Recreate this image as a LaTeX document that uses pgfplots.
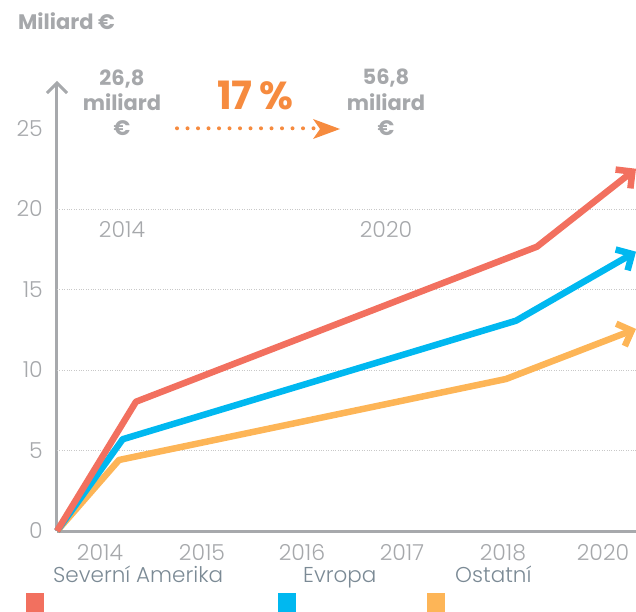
\documentclass[border=0pt]{standalone}
\usepackage{pgfplots}
\pgfplotsset{compat=1.18}
\usepackage{fontspec}
\setmainfont{Poppins}
\newfontfamily\lightfont{Poppins Light}
\usetikzlibrary{arrows.meta}
\definecolor{cred}{HTML}{F2705F}
\definecolor{cblue}{HTML}{00B8F0}
\definecolor{cyel}{HTML}{FDB557}
\definecolor{corange}{HTML}{F68B3F}
\definecolor{txtgray}{HTML}{A6A8AB}
\definecolor{axgray}{HTML}{A7A9AC}
\definecolor{leggray}{HTML}{7B8A95}
\definecolor{gridgray}{HTML}{C8C8C8}
\begin{document}
\begin{tikzpicture}
\path[use as bounding box] (-57pt,-80pt) rectangle (579pt,531pt);
\begin{axis}[
  at={(0pt,0pt)}, anchor=south west,
  scale only axis, width=579pt, height=450pt,
  xmin=57, xmax=636, ymin=0, ymax=27.95,
  clip=false,
  axis x line=bottom, axis y line=left,
  x axis line style={-, line width=3pt, color=axgray},
  y axis line style={-{Straight Barb[length=10pt,width=20pt]}, line width=3pt, color=axgray},
  xtick={100,202,302,402,503,603},
  xticklabels={2014,2015,2016,2017,2018,2020},
  ytick={0,5,...,25},
  major tick length=0pt,
  tick style={draw=none},
  /pgf/number format/assume math mode=true,
  yticklabel style={font=\lightfont\fontsize{22}{22}\selectfont, color=txtgray, anchor=east, inner sep=0pt, xshift=-14pt},
  xticklabel style={font=\lightfont\fontsize{22}{22}\selectfont, color=txtgray, anchor=base, inner sep=0pt, yshift=-29pt},
  extra y ticks={5,10,15,20},
  extra y tick labels={},
  extra y tick style={grid=major},
  major grid style={dotted, color=gridgray, line width=0.8pt},
]
\addplot[cyel, line width=6.5pt, line join=round, -{Straight Barb[length=12pt,width=24pt]}] coordinates {(57,0) (119,4.41) (506,9.44) (636,12.55)};
\addplot[cblue, line width=6.5pt, line join=round, -{Straight Barb[length=12pt,width=24pt]}] coordinates {(57,0) (122.7,5.70) (516,13.06) (636,17.35)};
\addplot[cred, line width=6.5pt, line join=round, -{Straight Barb[length=12pt,width=24pt]}] coordinates {(57,0) (136,8.03) (537,17.66) (636,22.5)};
\end{axis}
\begin{scope}[shift={(-57pt,531pt)}, x=1pt, y=-1pt]
\node[anchor=base west, inner sep=0pt, font=\bfseries\fontsize{21}{21}\selectfont, text=txtgray] at (18,30) {Miliard €};
\node[anchor=base, inner sep=0pt, font=\bfseries\fontsize{21}{21}\selectfont, text=txtgray] at (122,86) {26,8};
\node[anchor=base, inner sep=0pt, font=\bfseries\fontsize{21}{21}\selectfont, text=txtgray] at (122,111) {miliard};
\node[anchor=base, inner sep=0pt, font=\bfseries\fontsize{21}{21}\selectfont, text=txtgray] at (122,136) {€};
\node[anchor=base, inner sep=0pt, font=\bfseries\fontsize{21}{21}\selectfont, text=txtgray] at (386,85) {56,8};
\node[anchor=base, inner sep=0pt, font=\bfseries\fontsize{21}{21}\selectfont, text=txtgray] at (386,111) {miliard};
\node[anchor=base, inner sep=0pt, font=\bfseries\fontsize{21}{21}\selectfont, text=txtgray] at (386,136) {€};
\node[anchor=base, inner sep=0pt, font=\bfseries\fontsize{39}{39}\selectfont, text=corange] at (255,110) {17\,\%};
\draw[corange, line width=4pt, line cap=round, dash pattern=on 0pt off 10.5pt] (177,128.3) -- (316,128.3);
\fill[corange] (340,129) -- (313,119) -- (320,129) -- (313,139) -- cycle;
\node[anchor=base, inner sep=0pt, font=\lightfont\fontsize{22}{22}\selectfont, text=txtgray] at (122,237) {2014};
\node[anchor=base, inner sep=0pt, font=\lightfont\fontsize{22}{22}\selectfont, text=txtgray] at (386,237) {2020};
\node[anchor=base west, inner sep=0pt, font=\lightfont\fontsize{21.5}{21.5}\selectfont, text=leggray] at (53,582) {Severní Amerika};
\node[anchor=base west, inner sep=0pt, font=\lightfont\fontsize{21.5}{21.5}\selectfont, text=leggray] at (303,582) {Evropa};
\node[anchor=base west, inner sep=0pt, font=\lightfont\fontsize{21.5}{21.5}\selectfont, text=leggray] at (455,582) {Ostatní};
\fill[cred] (26,593) rectangle (44,612);
\fill[cblue] (278,593) rectangle (296,612);
\fill[cyel] (427,593) rectangle (445,612);
\end{scope}
\end{tikzpicture}
\end{document}
